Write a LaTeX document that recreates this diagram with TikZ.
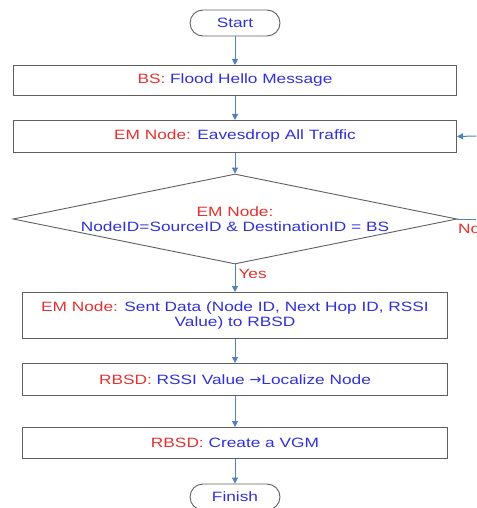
\documentclass[tikz,border=0pt]{standalone}
\usepackage{fontspec}
\setmainfont{Liberation Sans}[FakeStretch=1.28]
\usetikzlibrary{arrows.meta,shapes.geometric}
\definecolor{lblred}{RGB}{228,48,48}
\definecolor{lblblue}{RGB}{48,48,215}
\definecolor{arrowblue}{RGB}{80,128,190}
\definecolor{boxgrey}{RGB}{95,95,95}
\begin{document}
\begin{tikzpicture}[x=1pt,y=-1pt,
  font=\fontsize{13.5}{16}\selectfont,
  box/.style={draw=boxgrey,line width=1pt,inner sep=0pt,anchor=north west},
  term/.style={draw=boxgrey,line width=0.9pt,rounded corners=13pt,minimum width=90pt,minimum height=26pt,inner sep=0pt,text=lblblue},
  conn/.style={draw=arrowblue,line width=1pt,-{Triangle[length=6pt,width=6pt]}},
  plain/.style={draw=arrowblue,line width=1pt},
  rd/.style={text=lblred},
  bl/.style={text=lblblue}]
\useasboundingbox (0,0) rectangle (476,508);
\clip (0,0) rectangle (476,508);
\node[term] (start) at (235,23) {Start};
\node[box,minimum width=443pt,minimum height=30pt] (b1) at (13,65) {};
\node at (b1.center) (t1) {\textcolor{lblred}{BS:} \textcolor{lblblue}{Flood Hello Message}};
\node[box,minimum width=443pt,minimum height=32pt] (b2) at (13,120) {};
\node at (b2.center) (t2) {\textcolor{lblred}{EM Node:} \textcolor{lblblue}{Eavesdrop All Traffic}};
\node[draw=boxgrey,line width=0.9pt,diamond,minimum width=444pt,minimum height=90pt,inner sep=0pt] (dia) at (235,219) {};
\node[align=center] (dt) at (235,219) {\textcolor{lblred}{EM Node:}\\[-1pt]\textcolor{lblblue}{NodeID=SourceID \& DestinationID = BS}};
\node[box,minimum width=425pt,minimum height=46pt] (b3) at (22,292) {};
\node[align=center] (t3) at (b3.center) {\textcolor{lblred}{EM Node:} \textcolor{lblblue}{Sent Data (Node ID, Next Hop ID, RSSI}\\[-1pt]\textcolor{lblblue}{Value) to RBSD}};
\node[box,minimum width=425pt,minimum height=32pt] (b4) at (22,363) {};
\node (t4) at (b4.center) {\textcolor{lblred}{RBSD:} \textcolor{lblblue}{RSSI Value {\fontspec{DejaVu Sans}[Scale=1.05]→}Localize Node}};
\node[box,minimum width=425pt,minimum height=31pt] (b5) at (22,427) {};
\node (t5) at (b5.center) {\textcolor{lblred}{RBSD:} \textcolor{lblblue}{Create a VGM}};
\node[term] (fin) at (235,497) {Finish};
\coordinate (noend) at (476,219);
\coordinate (loopin) at (476,136);
\draw[conn] (start) -- (b1);
\draw[conn] (b1) -- (b2);
\draw[conn] (b2) -- (dia.north);
\draw[conn] (dia.south) -- node[right,rd,pos=0.35,inner sep=3pt] (yes) {Yes} (b3);
\draw[conn] (b3) -- (b4);
\draw[conn] (b4) -- (b5);
\draw[conn] (b5) -- (fin);
\draw[plain] (dia.east) -- (noend);
\draw[conn] (loopin) -- (b2.east);
\node[rd,anchor=north west,inner sep=0pt] (no) at (458,224) {No};
\end{tikzpicture}
\end{document}
